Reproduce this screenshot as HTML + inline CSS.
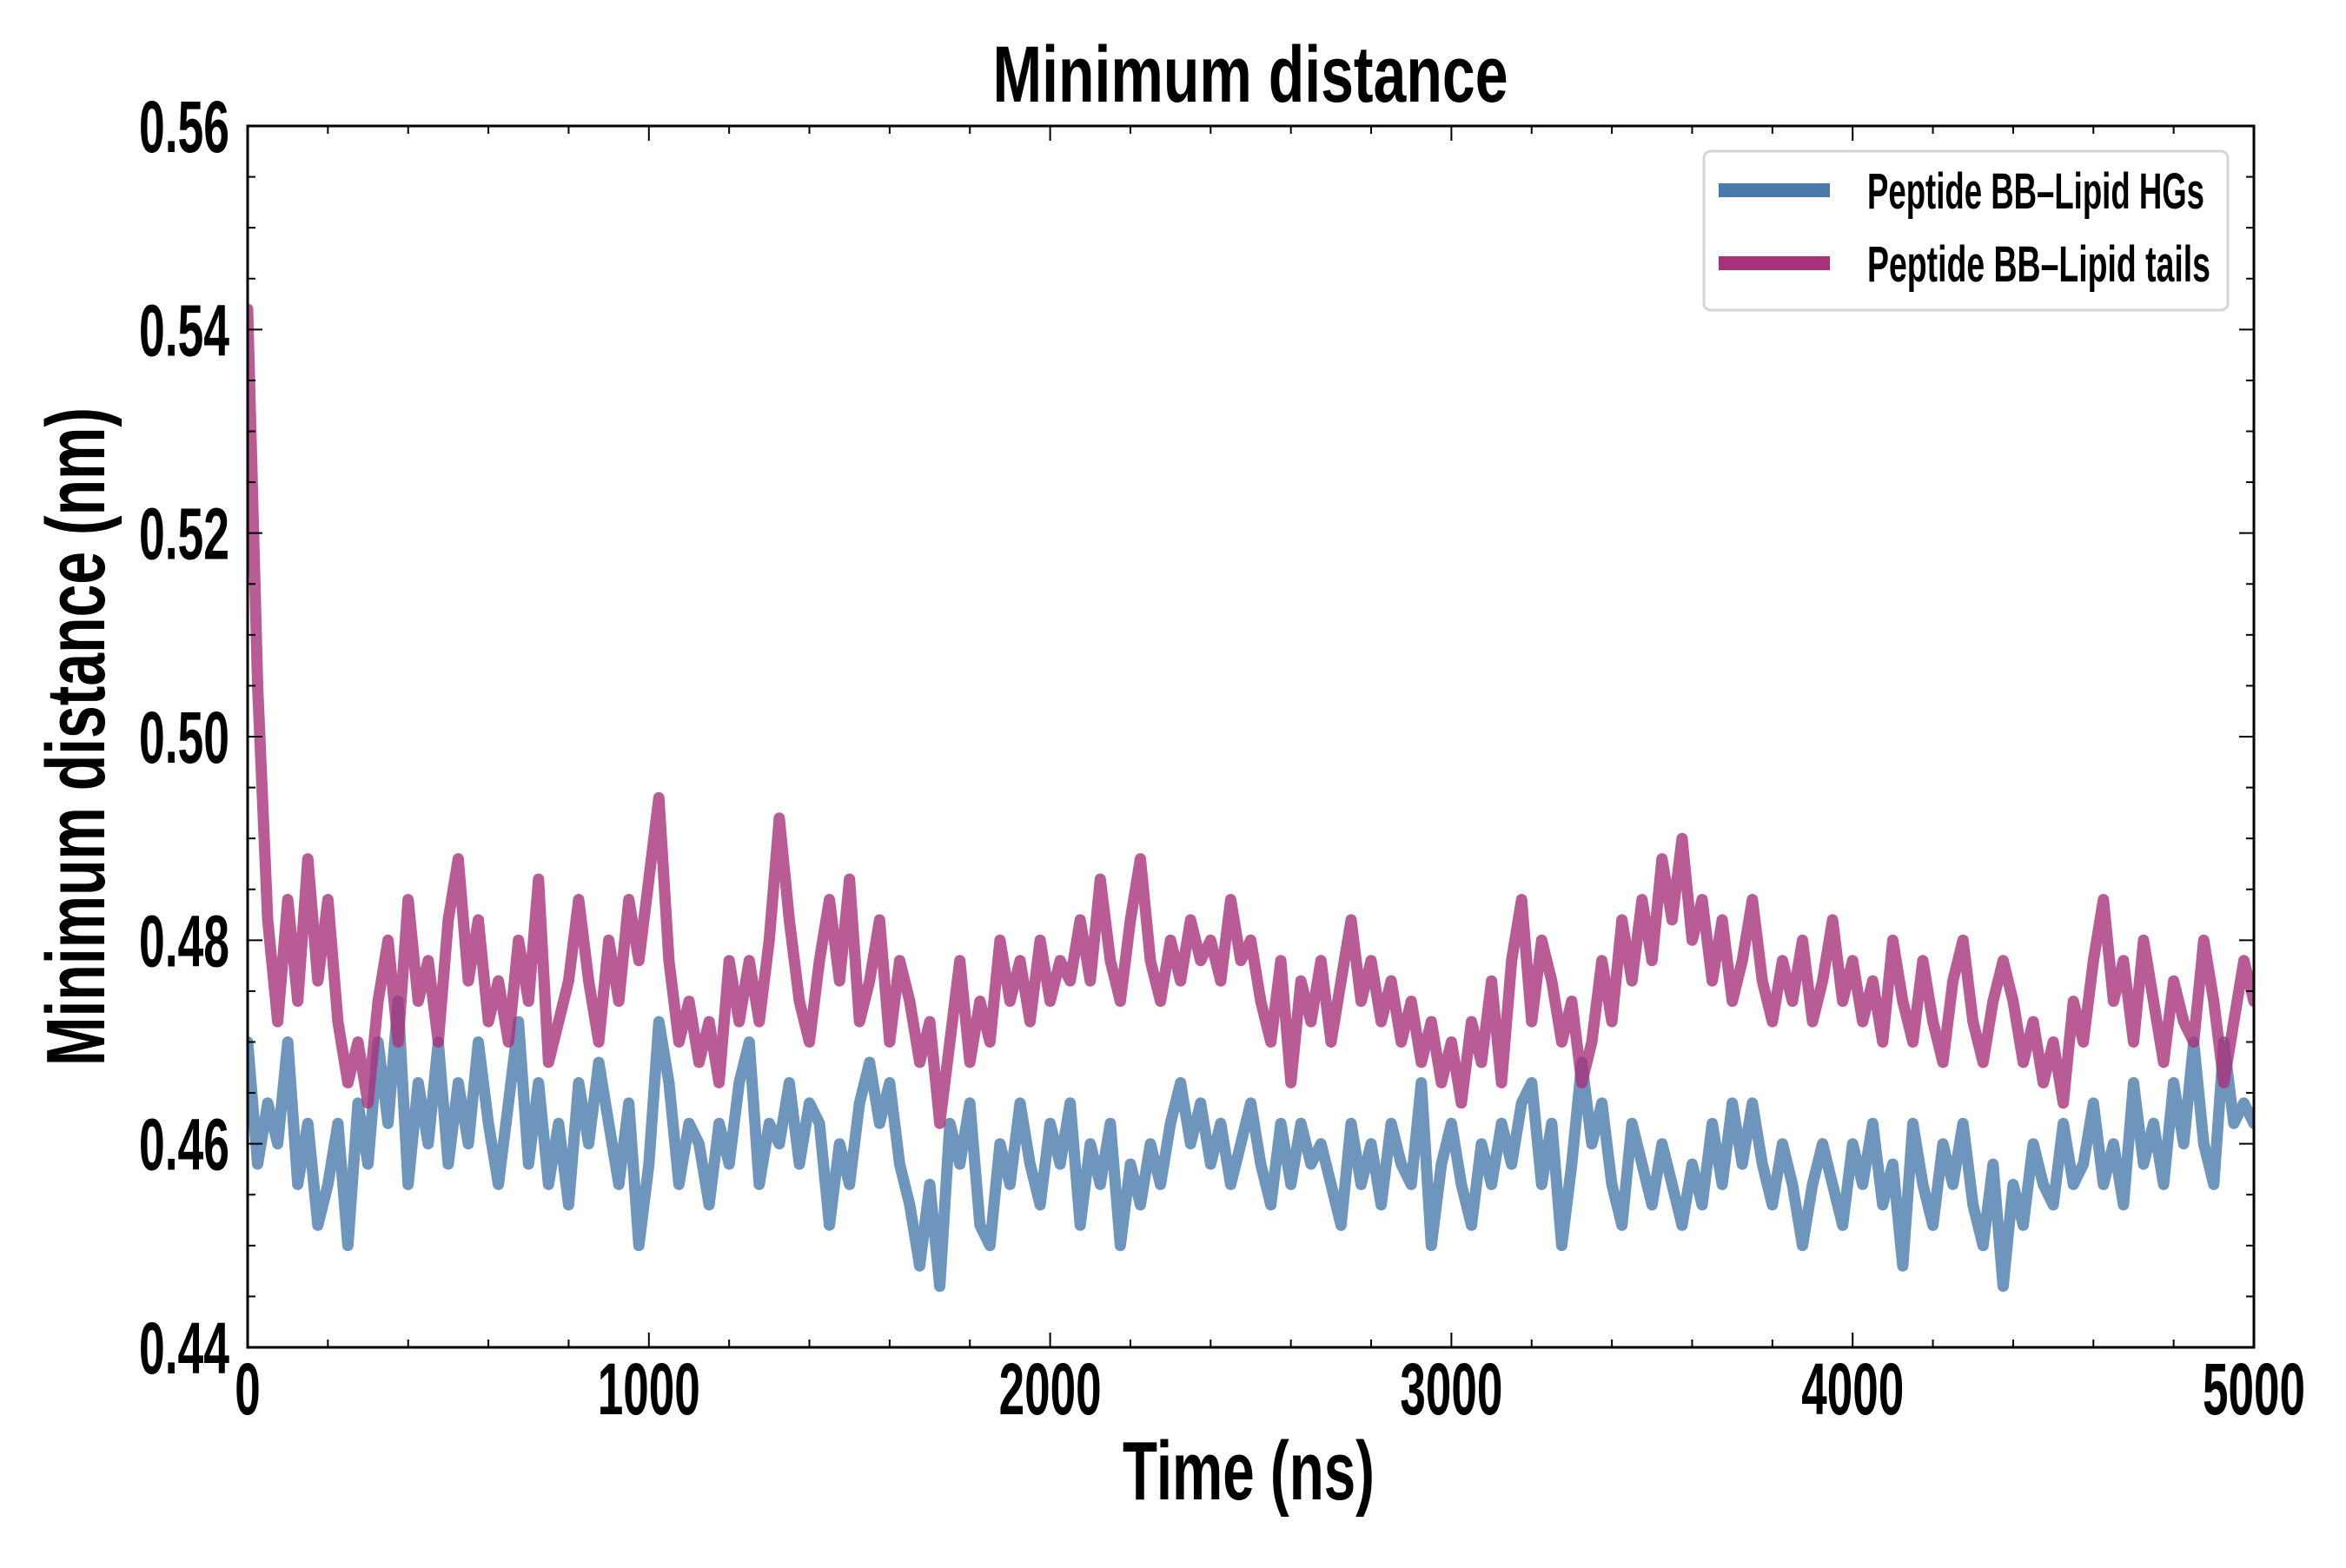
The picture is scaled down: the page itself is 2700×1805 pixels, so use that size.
<!DOCTYPE html>
<html><head><meta charset="utf-8"><style>
html,body{margin:0;padding:0;background:#fff;}
svg text{font-family:"Liberation Sans Narrow","Liberation Sans",sans-serif;font-weight:bold;fill:#000;}
</style></head><body>
<svg id="chart" width="2700" height="1800" viewBox="0 0 2700 1800" xmlns="http://www.w3.org/2000/svg">
<rect width="2700" height="1800" fill="#fff"/>
<g id="plot"></g>
<text x="1439" y="117" font-size="92" text-anchor="middle" textLength="593" lengthAdjust="spacingAndGlyphs">Minimum distance</text>
<text x="1437" y="1726" font-size="96" text-anchor="middle" textLength="290" lengthAdjust="spacingAndGlyphs">Time (ns)</text>
<text transform="translate(120,848) rotate(-90)" x="0" y="0" font-size="96" text-anchor="middle" textLength="758" lengthAdjust="spacingAndGlyphs">Minimum distance (nm)</text>
<g>
<rect x="1961" y="174" width="603" height="183" rx="8" fill="#fff" stroke="#d5d5d5" stroke-width="3"/>
<line x1="1978" y1="219" x2="2106" y2="219" stroke="#4a7aab" stroke-width="16"/>
<text x="2149" y="240" font-size="58" textLength="388" lengthAdjust="spacingAndGlyphs">Peptide BB–Lipid HGs</text>
<line x1="1978" y1="303" x2="2106" y2="303" stroke="#a8327a" stroke-width="16"/>
<text x="2149" y="324" font-size="58" textLength="395" lengthAdjust="spacingAndGlyphs">Peptide BB–Lipid tails</text>
</g>
</svg>
<script>
const xTicks=[0,1000,2000,3000,4000,5000];
const xTickLabels=["0","1000","2000","3000","4000","5000"];
const yTicks=[0.44,0.46,0.48,0.50,0.52,0.54,0.56];
const yTickLabels=["0.44","0.46","0.48","0.50","0.52","0.54","0.56"];
const seriesNames=["Peptide BB-Lipid HGs","Peptide BB-Lipid tails"];
const tailsValues=[0.542,0.505,0.482,0.472,0.484,0.474,0.488,0.476,0.484,0.472,
0.466,0.470,0.464,0.474,0.480,0.470,0.484,0.474,0.478,0.470,
0.482,0.488,0.476,0.482,0.472,0.476,0.470,0.480,0.474,0.486,
0.468,0.472,0.476,0.484,0.476,0.470,0.480,0.474,0.484,0.478,
0.486,0.494,0.478,0.470,0.474,0.468,0.472,0.466,0.478,0.472,
0.478,0.472,0.480,0.492,0.482,0.474,0.470,0.478,0.484,0.476,
0.486,0.472,0.476,0.482,0.470,0.478,0.474,0.468,0.472,0.462,
0.470,0.478,0.468,0.474,0.470,0.480,0.474,0.478,0.472,0.480,
0.474,0.478,0.476,0.482,0.476,0.486,0.478,0.474,0.482,0.488,
0.478,0.474,0.480,0.476,0.482,0.478,0.480,0.476,0.484,0.478,
0.480,0.474,0.470,0.478,0.466,0.476,0.472,0.478,0.470,0.476,
0.482,0.474,0.478,0.472,0.476,0.470,0.474,0.468,0.472,0.466,
0.470,0.464,0.472,0.468,0.476,0.466,0.478,0.484,0.472,0.480,
0.476,0.470,0.474,0.466,0.470,0.478,0.472,0.482,0.476,0.484,
0.478,0.488,0.482,0.490,0.480,0.484,0.476,0.482,0.474,0.478,
0.484,0.476,0.472,0.478,0.474,0.480,0.472,0.476,0.482,0.474,
0.478,0.472,0.476,0.470,0.480,0.474,0.470,0.478,0.472,0.468,
0.476,0.480,0.472,0.468,0.474,0.478,0.474,0.468,0.472,0.466,
0.470,0.464,0.474,0.470,0.478,0.484,0.474,0.478,0.470,0.480,
0.474,0.468,0.476,0.472,0.470,0.480,0.474,0.466,0.472,0.478,
0.474];
const hgsValues=[0.470,0.458,0.464,0.460,0.470,0.456,0.462,0.452,0.456,0.462,
0.450,0.464,0.458,0.470,0.462,0.474,0.456,0.466,0.460,0.470,
0.458,0.466,0.460,0.470,0.462,0.456,0.464,0.472,0.458,0.466,
0.456,0.462,0.454,0.466,0.460,0.468,0.462,0.456,0.464,0.450,
0.458,0.472,0.466,0.456,0.462,0.460,0.454,0.462,0.458,0.466,
0.470,0.456,0.462,0.460,0.466,0.458,0.464,0.462,0.452,0.460,
0.456,0.464,0.468,0.462,0.466,0.458,0.454,0.448,0.456,0.446,
0.462,0.458,0.464,0.452,0.450,0.460,0.456,0.464,0.458,0.454,
0.462,0.458,0.464,0.452,0.460,0.456,0.462,0.450,0.458,0.454,
0.460,0.456,0.462,0.466,0.460,0.464,0.458,0.462,0.456,0.460,
0.464,0.458,0.454,0.462,0.456,0.462,0.458,0.460,0.456,0.452,
0.462,0.456,0.460,0.454,0.462,0.458,0.456,0.466,0.450,0.458,
0.462,0.456,0.452,0.460,0.456,0.462,0.458,0.464,0.466,0.456,
0.462,0.450,0.458,0.468,0.460,0.464,0.456,0.452,0.462,0.458,
0.454,0.460,0.456,0.452,0.458,0.454,0.462,0.456,0.464,0.458,
0.464,0.458,0.454,0.460,0.456,0.450,0.456,0.460,0.456,0.452,
0.460,0.456,0.462,0.454,0.458,0.448,0.462,0.456,0.452,0.460,
0.456,0.462,0.454,0.450,0.458,0.446,0.456,0.452,0.460,0.456,
0.454,0.462,0.456,0.458,0.464,0.456,0.460,0.454,0.466,0.458,
0.462,0.456,0.466,0.460,0.470,0.460,0.456,0.470,0.462,0.464,
0.462];
const X0=285,X1=2594,Y0=1551,Y1=145;
const xScale=v=>X0+(v-0)/(5000-0)*(X1-X0);
const yScale=v=>Y0-(v-0.44)/(0.56-0.44)*(Y0-Y1);
const NS="http://www.w3.org/2000/svg";
const plot=document.getElementById('plot');
function mk(tag,attrs){const e=document.createElementNS(NS,tag);for(const k in attrs)e.setAttribute(k,attrs[k]);return e;}
const defs=mk('defs',{});const cp=mk('clipPath',{id:'clip'});cp.appendChild(mk('rect',{x:X0,y:Y1,width:X1-X0,height:Y0-Y1}));defs.appendChild(cp);plot.appendChild(defs);
function series(vals,color,name){
  const n=vals.length;let d='';
  vals.forEach((v,i)=>{const t=i*5000/(n-1);d+=(i?'L':'M')+xScale(t).toFixed(1)+','+yScale(v).toFixed(1);});
  const p=mk('path',{d:d,fill:'none',stroke:color,'stroke-width':13,'stroke-opacity':0.8,'stroke-linejoin':'round','stroke-linecap':'round','clip-path':'url(#clip)'});
  
  
  plot.appendChild(p);
}
series(hgsValues,'#4a7aab','series-hgs-line');
series(tailsValues,'#a8327a','series-tails-line');
const fr=mk('rect',{x:X0,y:Y1,width:X1-X0,height:Y0-Y1,fill:'none',stroke:'#000','stroke-width':3});


plot.appendChild(fr);
for(let v=0;v<=5000;v+=200){
  const x=xScale(v);const major=v%1000===0;const L=major?17:9;
  plot.appendChild(mk('line',{x1:x,y1:Y0,x2:x,y2:Y0-L,stroke:'#000','stroke-width':2}));
  plot.appendChild(mk('line',{x1:x,y1:Y1,x2:x,y2:Y1+L,stroke:'#000','stroke-width':2}));
}
xTicks.forEach((v,i)=>{
  const lab=xTickLabels[i];
  const t=mk('text',{x:xScale(v),y:1628,'font-size':84,'text-anchor':'middle',textLength:lab.length*29.5,lengthAdjust:'spacingAndGlyphs'});
  
  
  t.textContent=lab;plot.appendChild(t);
});
for(let i=0;i<=24;i++){
  const v=0.44+i*0.005;const y=yScale(v);const major=i%4===0;const L=major?17:9;
  plot.appendChild(mk('line',{x1:X0,y1:y,x2:X0+L,y2:y,stroke:'#000','stroke-width':2}));
  plot.appendChild(mk('line',{x1:X1,y1:y,x2:X1-L,y2:y,stroke:'#000','stroke-width':2}));
}
yTicks.forEach((v,i)=>{
  const t=mk('text',{x:264,y:yScale(v)+30,'font-size':84,'text-anchor':'end',textLength:104,lengthAdjust:'spacingAndGlyphs'});
  
  
  t.textContent=yTickLabels[i];plot.appendChild(t);
});
</script>
</body></html>
